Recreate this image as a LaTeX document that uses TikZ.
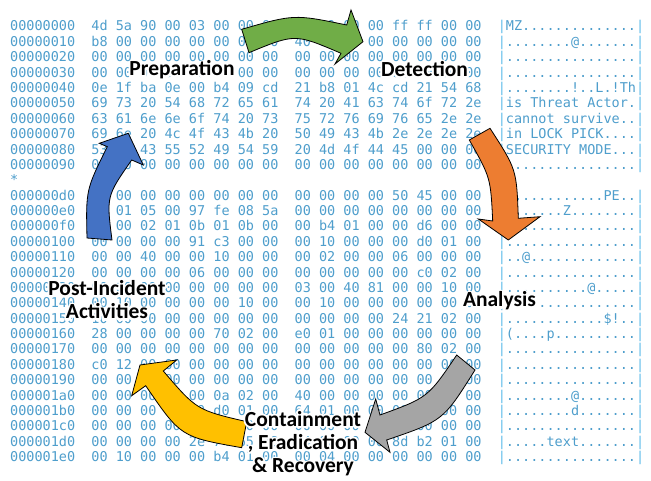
\documentclass[tikz,border=0pt]{standalone}
\usepackage{fontspec}
\setmainfont{Carlito}
\newfontfamily\hexfont{DejaVu Sans Mono}
\newfontfamily\glowfont{Carlito Bold}[FakeBold=18]
\usetikzlibrary{calc}
\definecolor{hexblue}{RGB}{78,158,204}
\definecolor{hexpipe}{RGB}{100,190,235}
\definecolor{agreen}{RGB}{112,173,71}
\definecolor{aorange}{RGB}{237,125,49}
\definecolor{agray}{RGB}{165,165,165}
\definecolor{ayellow}{RGB}{255,192,0}
\definecolor{ablue}{RGB}{68,114,196}
\newcommand{\SP}{\phantom{0}}
\newcommand{\PP}{\textcolor{hexpipe}{|}}
\newcommand{\hexline}[3]{\node[hexrow] (#1) at (10,{31+15.38*#2}) {#3};}
\newcommand{\glowlabel}[3]{%
  \node[lbl, text=white, line join=round, font=\glowfont\fontsize{21.5}{23.3}\selectfont] (#1-glow) at (#2) {#3};%
  \node[lbl] (#1) at (#2) {#3};}
\tikzset{
  hexrow/.style={anchor=base west, inner sep=0pt, text=hexblue,
    font=\hexfont\fontsize{13.5}{15.4}\selectfont\frenchspacing},
  blockarrow/.style={draw=black, line width=0.8pt, line join=miter},
  lbl/.style={anchor=base, inner sep=0pt, align=center,
    font=\bfseries\fontsize{21.5}{23.3}\selectfont},
}
\begin{document}
\begin{tikzpicture}[x=1pt,y=-1pt]
\useasboundingbox (0,0) rectangle (651,481);
\fill[white] (0,0) rectangle (651,481);
% hex dump
\hexline{r00}{0}{00000000\SP\SP 4d 5a 90 00 03 00 00 00 \SP 04 00 00 00 ff ff 00 00 \SP\PP MZ..............\PP}
\hexline{r01}{1}{00000010\SP\SP b8 00 00 00 00 00 00 00 \SP 40 00 00 00 00 00 00 00 \SP\PP ........@.......\PP}
\hexline{r02}{2}{00000020\SP\SP 00 00 00 00 00 00 00 00 \SP 00 00 00 00 00 00 00 00 \SP\PP ................\PP}
\hexline{r03}{3}{00000030\SP\SP 00 00 00 00 00 00 00 00 \SP 00 00 00 00 dc 00 00 00 \SP\PP ................\PP}
\hexline{r04}{4}{00000040\SP\SP 0e 1f ba 0e 00 b4 09 cd \SP 21 b8 01 4c cd 21 54 68 \SP\PP ........!..L.!Th\PP}
\hexline{r05}{5}{00000050\SP\SP 69 73 20 54 68 72 65 61 \SP 74 20 41 63 74 6f 72 2e \SP\PP is Threat Actor.\PP}
\hexline{r06}{6}{00000060\SP\SP 63 61 6e 6e 6f 74 20 73 \SP 75 72 76 69 76 65 2e 2e \SP\PP cannot survive..\PP}
\hexline{r07}{7}{00000070\SP\SP 69 6e 20 4c 4f 43 4b 20 \SP 50 49 43 4b 2e 2e 2e 2e \SP\PP in LOCK PICK....\PP}
\hexline{r08}{8}{00000080\SP\SP 53 45 43 55 52 49 54 59 \SP 20 4d 4f 44 45 00 00 00 \SP\PP SECURITY MODE...\PP}
\hexline{r09}{9}{00000090\SP\SP 00 00 00 00 00 00 00 00 \SP 00 00 00 00 00 00 00 00 \SP\PP ................\PP}
\hexline{r10}{10}{*}
\hexline{r11}{11}{000000d0\SP\SP 00 00 00 00 00 00 00 00 \SP 00 00 00 00 50 45 00 00 \SP\PP ............PE..\PP}
\hexline{r12}{12}{000000e0\SP\SP 4c 01 05 00 97 fe 08 5a \SP 00 00 00 00 00 00 00 00 \SP\PP L......Z........\PP}
\hexline{r13}{13}{000000f0\SP\SP e0 00 02 01 0b 01 0b 00 \SP 00 b4 01 00 00 d6 00 00 \SP\PP ................\PP}
\hexline{r14}{14}{00000100\SP\SP 00 00 00 00 91 c3 00 00 \SP 00 10 00 00 00 d0 01 00 \SP\PP ................\PP}
\hexline{r15}{15}{00000110\SP\SP 00 00 40 00 00 10 00 00 \SP 00 02 00 00 06 00 00 00 \SP\PP ..@.............\PP}
\hexline{r16}{16}{00000120\SP\SP 00 00 00 00 06 00 00 00 \SP 00 00 00 00 00 c0 02 00 \SP\PP ................\PP}
\hexline{r17}{17}{00000130\SP\SP 00 00 00 00 00 00 00 00 \SP 03 00 40 81 00 00 10 00 \SP\PP ..........@.....\PP}
\hexline{r18}{18}{00000140\SP\SP 00 10 00 00 00 00 10 00 \SP 00 10 00 00 00 00 00 00 \SP\PP ................\PP}
\hexline{r19}{19}{00000150\SP\SP 10 00 00 00 00 00 00 00 \SP 00 00 00 00 24 21 02 00 \SP\PP ............\$!..\PP}
\hexline{r20}{20}{00000160\SP\SP 28 00 00 00 00 70 02 00 \SP e0 01 00 00 00 00 00 00 \SP\PP (....p..........\PP}
\hexline{r21}{21}{00000170\SP\SP 00 00 00 00 00 00 00 00 \SP 00 00 00 00 00 80 02 00 \SP\PP ................\PP}
\hexline{r22}{22}{00000180\SP\SP c0 12 00 00 00 00 00 00 \SP 00 00 00 00 00 00 00 00 \SP\PP ................\PP}
\hexline{r23}{23}{00000190\SP\SP 00 00 00 00 00 00 00 00 \SP 00 00 00 00 00 00 00 00 \SP\PP ................\PP}
\hexline{r24}{24}{000001a0\SP\SP 00 00 00 00 00 0a 02 00 \SP 40 00 00 00 00 00 00 00 \SP\PP ........@.......\PP}
\hexline{r25}{25}{000001b0\SP\SP 00 00 00 00 00 d0 01 00 \SP 64 01 00 00 00 00 00 00 \SP\PP ........d.......\PP}
\hexline{r26}{26}{000001c0\SP\SP 00 00 00 00 00 00 00 00 \SP 00 00 00 00 00 00 00 00 \SP\PP ................\PP}
\hexline{r27}{27}{000001d0\SP\SP 00 00 00 00 2e 74 65 78 \SP 74 00 00 00 8d b2 01 00 \SP\PP .....text.......\PP}
\hexline{r28}{28}{000001e0\SP\SP 00 10 00 00 00 b4 01 00 \SP 00 04 00 00 00 00 00 00 \SP\PP ................\PP}
% block arrows
\draw[blockarrow, fill=agreen] (241.7,29.3) .. controls (294.2,14.2) .. (346.7,25) -- (351,10) -- (363,41.7) -- (335,64) -- (341,53.3) .. controls (295,33.6) .. (249,52.7) -- cycle;
\draw[blockarrow, fill=aorange] (469.3,140) .. controls (490.6,177.7) .. (492.7,221) -- (478.3,219) -- (508.3,240) -- (540,216.7) -- (518.3,218.3) .. controls (516.6,169.4) .. (490,128.3) -- cycle;
\draw[blockarrow, fill=agray] (456.7,355) .. controls (427.9,397.6) .. (380,415) -- (375.7,399) -- (365,432.3) -- (390,452.3) -- (386.7,440) .. controls (443.2,420.7) .. (475,370) -- cycle;
\draw[blockarrow, fill=ayellow] (246.7,421.7) .. controls (196.7,410) .. (163.3,371) -- (176.7,360) -- (140,365) -- (131.7,395.7) -- (145.7,385.7) .. controls (180.7,436.9) .. (241.7,447.7) -- cycle;
\draw[blockarrow, fill=ablue] (87,238) .. controls (85.9,189.8) .. (107.3,146.7) -- (99.3,143.3) -- (128.3,133.3) -- (143.3,165) -- (131.7,160) .. controls (106.4,196.2) .. (112,240) -- cycle;
% labels
\glowlabel{prep}{182,76}{Preparation}
\glowlabel{det}{424.5,76.7}{Detection}
\glowlabel{ana}{499.5,307}{Analysis}
\glowlabel{cer}{303,472.7}{Containment\\, Eradication\\\& Recovery}
\glowlabel{pia}{107,319}{Post-Incident\\Activities}
\end{tikzpicture}
\end{document}
